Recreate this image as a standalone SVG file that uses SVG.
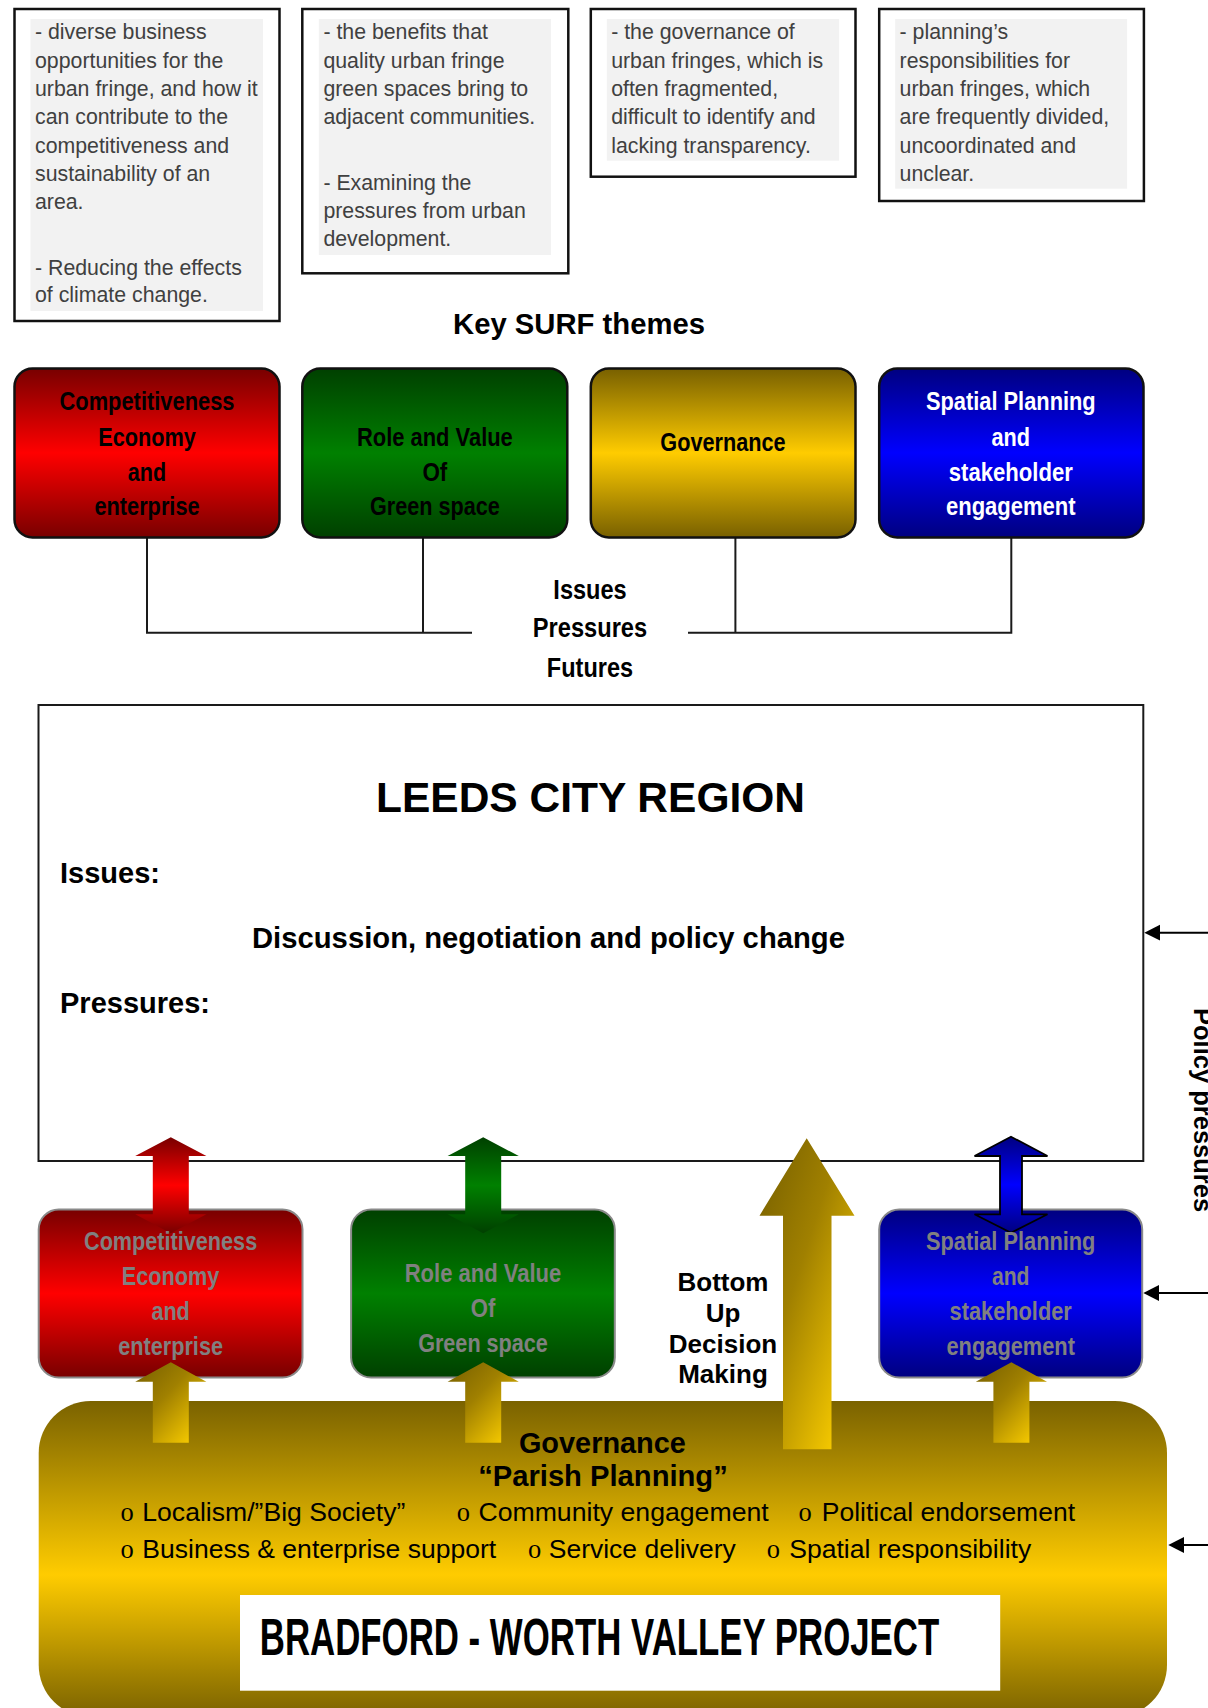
<svg xmlns="http://www.w3.org/2000/svg" width="1208" height="1708" viewBox="0 0 1208 1708">
  <defs>
    <style>
      .note { fill: #f2f2f2; }
      .frame { fill: #ffffff; stroke: #111111; stroke-width: 2.5; }
      .ntext { font-family: "Liberation Sans", Arial, sans-serif; font-size: 21.3px; fill: #404040; }
      .theme { stroke: #111111; stroke-width: 2.5; }
      .ghost { stroke: #8a8a8a; stroke-width: 2; }
      .narrow { font-family: "Liberation Sans Narrow", "Arial Narrow", "Liberation Sans", Arial, sans-serif; font-weight: bold; font-size: 26.5px; text-anchor: middle; }
      .bold { font-family: "Liberation Sans", Arial, sans-serif; font-weight: bold; }
      .reg { font-family: "Liberation Sans", Arial, sans-serif; font-size: 26.5px; fill: #000; }
      .bul { font-family: "Liberation Serif", "Times New Roman", serif; font-size: 26.5px; fill: #000; }
      .wire { fill: none; stroke: #1a1a1a; stroke-width: 2; }
      .pline { stroke: #000; stroke-width: 2; }
    </style>
    <linearGradient id="gRed" x1="0" y1="0" x2="0" y2="1">
      <stop offset="0" stop-color="#780000"/><stop offset="0.5" stop-color="#ff0000"/><stop offset="1" stop-color="#780000"/>
    </linearGradient>
    <linearGradient id="gGreen" x1="0" y1="0" x2="0" y2="1">
      <stop offset="0" stop-color="#004000"/><stop offset="0.5" stop-color="#008000"/><stop offset="1" stop-color="#004000"/>
    </linearGradient>
    <linearGradient id="gGold" x1="0" y1="0" x2="0" y2="1">
      <stop offset="0" stop-color="#786000"/><stop offset="0.5" stop-color="#ffcc00"/><stop offset="1" stop-color="#786000"/>
    </linearGradient>
    <linearGradient id="gBlue" x1="0" y1="0" x2="0" y2="1">
      <stop offset="0" stop-color="#000080"/><stop offset="0.5" stop-color="#0000ff"/><stop offset="1" stop-color="#000080"/>
    </linearGradient>
    <linearGradient id="gBase" x1="0" y1="0" x2="0" y2="1">
      <stop offset="0" stop-color="#7a6200"/><stop offset="0.55" stop-color="#ffcc00"/><stop offset="1" stop-color="#7a6200"/>
    </linearGradient>
    <linearGradient id="gLift" x1="0.1" y1="0" x2="0.9" y2="0.85">
      <stop offset="0" stop-color="#7a6200"/><stop offset="0.45" stop-color="#a08000"/><stop offset="1" stop-color="#f2c600"/>
    </linearGradient>
  </defs>

  <!-- description boxes along the top -->
  <g id="note-economy">
    <rect class="frame" x="14.5" y="9" width="265" height="312"/>
    <rect class="note" x="30.5" y="19" width="232.5" height="292"/>
    <text class="ntext" x="35" y="39.3">- diverse business</text>
    <text class="ntext" x="35" y="67.7">opportunities for the</text>
    <text class="ntext" x="35" y="96">urban fringe, and how it</text>
    <text class="ntext" x="35" y="124.3">can contribute to the</text>
    <text class="ntext" x="35" y="152.7">competitiveness and</text>
    <text class="ntext" x="35" y="181">sustainability of an</text>
    <text class="ntext" x="35" y="209">area.</text>
    <text class="ntext" x="35" y="275">- Reducing the effects</text>
    <text class="ntext" x="35" y="301.7">of climate change.</text>
  </g>
  <g id="note-green">
    <rect class="frame" x="302.3" y="9" width="266" height="264.3"/>
    <rect class="note" x="318.8" y="19" width="232.2" height="236"/>
    <text class="ntext" x="323.4" y="39.3">- the benefits that</text>
    <text class="ntext" x="323.4" y="67.7">quality urban fringe</text>
    <text class="ntext" x="323.4" y="96">green spaces bring to</text>
    <text class="ntext" x="323.4" y="124.3">adjacent communities.</text>
    <text class="ntext" x="323.4" y="190">- Examining the</text>
    <text class="ntext" x="323.4" y="218.3">pressures from urban</text>
    <text class="ntext" x="323.4" y="246">development.</text>
  </g>
  <g id="note-governance">
    <rect class="frame" x="590.8" y="9" width="264.7" height="167.7"/>
    <rect class="note" x="606.8" y="19" width="232.3" height="141.7"/>
    <text class="ntext" x="611.2" y="39.3">- the governance of</text>
    <text class="ntext" x="611.2" y="67.7">urban fringes, which is</text>
    <text class="ntext" x="611.2" y="96">often fragmented,</text>
    <text class="ntext" x="611.2" y="124.3">difficult to identify and</text>
    <text class="ntext" x="611.2" y="152.7">lacking transparency.</text>
  </g>
  <g id="note-planning">
    <rect class="frame" x="879.2" y="9" width="264.7" height="192"/>
    <rect class="note" x="895.2" y="19" width="231.9" height="169.7"/>
    <text class="ntext" x="899.6" y="39.3">- planning’s</text>
    <text class="ntext" x="899.6" y="67.7">responsibilities for</text>
    <text class="ntext" x="899.6" y="96">urban fringes, which</text>
    <text class="ntext" x="899.6" y="124.3">are frequently divided,</text>
    <text class="ntext" x="899.6" y="152.7">uncoordinated and</text>
    <text class="ntext" x="899.6" y="181">unclear.</text>
  </g>

  <text id="themes-title" class="bold" x="579" y="334" font-size="29" text-anchor="middle" textLength="252" lengthAdjust="spacingAndGlyphs">Key SURF themes</text>

  <!-- theme tie lines -->
  <g id="connectors">
    <path class="wire" d="M147,537.5 V632.7 H472 M423,537.5 V632.7"/>
    <path class="wire" d="M688,632.7 H1011.3 V537.5 M735.4,537.5 V632.7"/>
  </g>

  <!-- key SURF theme boxes -->
  <g id="theme-economy">
    <rect class="theme" x="14.5" y="368.5" width="265" height="169" rx="18" fill="url(#gRed)"/>
    <text class="narrow" x="147" y="410" textLength="175" lengthAdjust="spacingAndGlyphs">Competitiveness</text>
    <text class="narrow" x="147" y="446" textLength="97.6" lengthAdjust="spacingAndGlyphs">Economy</text>
    <text class="narrow" x="147" y="481" textLength="38.3" lengthAdjust="spacingAndGlyphs">and</text>
    <text class="narrow" x="147" y="515" textLength="105.2" lengthAdjust="spacingAndGlyphs">enterprise</text>
  </g>
  <g id="theme-green">
    <rect class="theme" x="302.3" y="368.5" width="265" height="169" rx="18" fill="url(#gGreen)"/>
    <text class="narrow" x="434.9" y="446" textLength="155.8" lengthAdjust="spacingAndGlyphs">Role and Value</text>
    <text class="narrow" x="434.9" y="481" textLength="24.9" lengthAdjust="spacingAndGlyphs">Of</text>
    <text class="narrow" x="434.9" y="515" textLength="129.7" lengthAdjust="spacingAndGlyphs">Green space</text>
  </g>
  <g id="theme-governance">
    <rect class="theme" x="590.8" y="368.5" width="264.7" height="169" rx="18" fill="url(#gGold)"/>
    <text class="narrow" x="723" y="451" textLength="125.4" lengthAdjust="spacingAndGlyphs">Governance</text>
  </g>
  <g id="theme-planning">
    <rect class="theme" x="879.2" y="368.5" width="264.3" height="169" rx="18" fill="url(#gBlue)"/>
    <text class="narrow" x="1010.8" y="410" fill="#ffffff" textLength="169.8" lengthAdjust="spacingAndGlyphs">Spatial Planning</text>
    <text class="narrow" x="1010.8" y="446" fill="#ffffff" textLength="38.5" lengthAdjust="spacingAndGlyphs">and</text>
    <text class="narrow" x="1010.8" y="481" fill="#ffffff" textLength="124.1" lengthAdjust="spacingAndGlyphs">stakeholder</text>
    <text class="narrow" x="1010.8" y="515" fill="#ffffff" textLength="129.7" lengthAdjust="spacingAndGlyphs">engagement</text>
  </g>

  <g id="ipf-label">
    <text class="narrow" x="590" y="599" style="font-size:27.5px" textLength="73.3" lengthAdjust="spacingAndGlyphs">Issues</text>
    <text class="narrow" x="590" y="637" style="font-size:27.5px" textLength="114.3" lengthAdjust="spacingAndGlyphs">Pressures</text>
    <text class="narrow" x="590" y="677" style="font-size:27.5px" textLength="86.3" lengthAdjust="spacingAndGlyphs">Futures</text>
  </g>

  <!-- city region panel -->
  <g id="leeds-city-region">
    <rect x="38.5" y="705" width="1104.8" height="456" fill="#ffffff" stroke="#1a1a1a" stroke-width="2"/>
    <text class="bold" x="590.5" y="811.7" font-size="42" text-anchor="middle" textLength="429" lengthAdjust="spacingAndGlyphs">LEEDS CITY REGION</text>
    <text class="bold" x="60" y="882.7" font-size="29">Issues:</text>
    <text class="bold" x="252" y="947.7" font-size="29" textLength="593" lengthAdjust="spacingAndGlyphs">Discussion, negotiation and policy change</text>
    <text class="bold" x="60" y="1012.7" font-size="29">Pressures:</text>
  </g>

  <!-- local theme boxes -->
  <g id="local-economy">
    <rect class="ghost" x="38.7" y="1209.5" width="263.8" height="168" rx="20" fill="url(#gRed)"/>
  </g>
  <g id="local-green">
    <rect class="ghost" x="351.1" y="1209.5" width="263.7" height="168" rx="20" fill="url(#gGreen)"/>
  </g>
  <g id="local-planning">
    <rect class="ghost" x="879.2" y="1209.5" width="263" height="168" rx="20" fill="url(#gBlue)"/>
  </g>

  <!-- two-way links between local themes and the region -->
  <g id="links-two-way">
    <path d="M170.8,1137.3 L206.4,1156 L188.8,1156 L188.8,1214.3 L206.4,1214.3 L170.8,1233.3 L135.2,1214.3 L152.8,1214.3 L152.8,1156 L135.2,1156 Z" fill="url(#gRed)"/>
    <path d="M483.2,1137.3 L518.8,1156 L501.2,1156 L501.2,1214.3 L518.8,1214.3 L483.2,1233.3 L447.6,1214.3 L465.2,1214.3 L465.2,1156 L447.6,1156 Z" fill="url(#gGreen)"/>
    <path d="M1011,1136.7 L1047.5,1156 L1022,1156 L1022,1214.3 L1047.5,1214.3 L1011,1232.7 L974.5,1214.3 L1000,1214.3 L1000,1156 L974.5,1156 Z" fill="url(#gBlue)" stroke="#000" stroke-width="1.8" stroke-linejoin="miter"/>
  </g>

  <!-- local theme labels -->
  <g id="local-labels" fill="#808080">
    <text class="narrow" x="170.6" y="1250" textLength="173.2" lengthAdjust="spacingAndGlyphs">Competitiveness</text>
    <text class="narrow" x="170.6" y="1285" textLength="97.6" lengthAdjust="spacingAndGlyphs">Economy</text>
    <text class="narrow" x="170.6" y="1320" textLength="38.4" lengthAdjust="spacingAndGlyphs">and</text>
    <text class="narrow" x="170.6" y="1355" textLength="104.8" lengthAdjust="spacingAndGlyphs">enterprise</text>
    <text class="narrow" x="483" y="1282" textLength="156.6" lengthAdjust="spacingAndGlyphs">Role and Value</text>
    <text class="narrow" x="483" y="1317" textLength="24.5" lengthAdjust="spacingAndGlyphs">Of</text>
    <text class="narrow" x="483" y="1352" textLength="129.7" lengthAdjust="spacingAndGlyphs">Green space</text>
    <text class="narrow" x="1010.7" y="1250" textLength="169.4" lengthAdjust="spacingAndGlyphs">Spatial Planning</text>
    <text class="narrow" x="1010.7" y="1285" textLength="37.6" lengthAdjust="spacingAndGlyphs">and</text>
    <text class="narrow" x="1010.7" y="1320" textLength="122.2" lengthAdjust="spacingAndGlyphs">stakeholder</text>
    <text class="narrow" x="1010.7" y="1355" textLength="128.4" lengthAdjust="spacingAndGlyphs">engagement</text>
  </g>

  <!-- parish governance base -->
  <g id="parish-governance">
    <rect x="38.7" y="1401" width="1128.3" height="316" rx="52" fill="url(#gBase)"/>
    <text class="bold" x="602.4" y="1452.5" font-size="29" text-anchor="middle" textLength="167" lengthAdjust="spacingAndGlyphs">Governance</text>
    <text class="bold" x="603" y="1486" font-size="29" text-anchor="middle" textLength="249.6" lengthAdjust="spacingAndGlyphs">“Parish Planning”</text>
    <text class="bul" x="120.6" y="1520.5">o</text>
    <text class="reg" x="142.3" y="1520.5" textLength="263" lengthAdjust="spacingAndGlyphs">Localism/”Big Society”</text>
    <text class="bul" x="456.7" y="1520.5">o</text>
    <text class="reg" x="478.4" y="1520.5" textLength="290.3" lengthAdjust="spacingAndGlyphs">Community engagement</text>
    <text class="bul" x="798.6" y="1520.5">o</text>
    <text class="reg" x="821.8" y="1520.5" textLength="253.2" lengthAdjust="spacingAndGlyphs">Political endorsement</text>
    <text class="bul" x="120.6" y="1557.5">o</text>
    <text class="reg" x="142.3" y="1557.5" textLength="353.9" lengthAdjust="spacingAndGlyphs">Business &amp; enterprise support</text>
    <text class="bul" x="527.9" y="1557.5">o</text>
    <text class="reg" x="548.8" y="1557.5" textLength="186.9" lengthAdjust="spacingAndGlyphs">Service delivery</text>
    <text class="bul" x="766.8" y="1557.5">o</text>
    <text class="reg" x="789.2" y="1557.5" textLength="242" lengthAdjust="spacingAndGlyphs">Spatial responsibility</text>
  </g>

  <!-- upward links from the parish base -->
  <g id="links-up">
    <path d="M170.8,1362.3 L206.4,1381.7 L188.8,1381.7 L188.8,1442.7 L152.8,1442.7 L152.8,1381.7 L135.2,1381.7 Z" fill="url(#gLift)"/>
    <path d="M483.2,1362.3 L518.8,1381.7 L501.2,1381.7 L501.2,1442.7 L465.2,1442.7 L465.2,1381.7 L447.6,1381.7 Z" fill="url(#gLift)"/>
    <path d="M1011.4,1362.3 L1047,1381.7 L1029.4,1381.7 L1029.4,1442.7 L993.4,1442.7 L993.4,1381.7 L975.8,1381.7 Z" fill="url(#gLift)"/>
    <path d="M806.7,1138.3 L854.5,1215.7 L831.5,1215.7 L831.5,1449.3 L783,1449.3 L783,1215.7 L759.5,1215.7 Z" fill="url(#gLift)"/>
  </g>

  <g id="bottom-up-label" class="bold" font-size="26" text-anchor="middle">
    <text x="723" y="1291">Bottom</text>
    <text x="723" y="1321.5">Up</text>
    <text x="723" y="1352.5">Decision</text>
    <text x="723" y="1383">Making</text>
  </g>

  <g id="project-title">
    <rect x="240" y="1595" width="760.2" height="95.7" fill="#ffffff"/>
    <text class="narrow" x="599.5" y="1655" style="font-size:51px" textLength="679.5" lengthAdjust="spacingAndGlyphs">BRADFORD - WORTH VALLEY PROJECT</text>
  </g>

  <!-- external policy pressures -->
  <g id="policy-pressures">
    <line class="pline" x1="1158" y1="932.7" x2="1208" y2="932.7"/>
    <polygon points="1144.3,932.7 1160,924.8 1160,940.6" fill="#000"/>
    <line class="pline" x1="1157" y1="1293" x2="1208" y2="1293"/>
    <polygon points="1143.3,1293 1159,1285.1 1159,1300.9" fill="#000"/>
    <line class="pline" x1="1182" y1="1545" x2="1208" y2="1545"/>
    <polygon points="1168.3,1545 1184,1537.1 1184,1552.9" fill="#000"/>
    <text class="bold" x="1194" y="1008" font-size="25.5" transform="rotate(90 1194 1008)">Policy pressures</text>
  </g>
</svg>
